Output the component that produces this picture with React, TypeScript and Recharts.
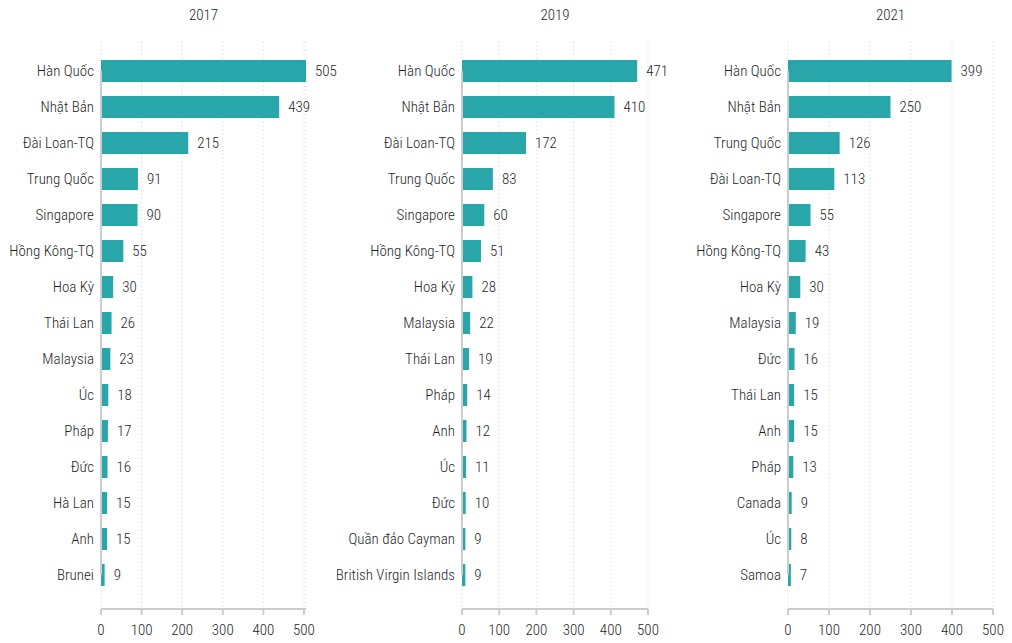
import React from "react";
import { BarChart, Bar, XAxis, YAxis, CartesianGrid, LabelList, ReferenceLine } from "recharts";

const categories2017 = ["Hàn Quốc", "Nhật Bản", "Đài Loan-TQ", "Trung Quốc", "Singapore", "Hồng Kông-TQ", "Hoa Kỳ", "Thái Lan", "Malaysia", "Úc", "Pháp", "Đức", "Hà Lan", "Anh", "Brunei"];
const values2017 = [505, 439, 215, 91, 90, 55, 30, 26, 23, 18, 17, 16, 15, 15, 9];

const categories2019 = ["Hàn Quốc", "Nhật Bản", "Đài Loan-TQ", "Trung Quốc", "Singapore", "Hồng Kông-TQ", "Hoa Kỳ", "Malaysia", "Thái Lan", "Pháp", "Anh", "Úc", "Đức", "Quần đảo Cayman", "British Virgin Islands"];
const values2019 = [471, 410, 172, 83, 60, 51, 28, 22, 19, 14, 12, 11, 10, 9, 9];

const categories2021 = ["Hàn Quốc", "Nhật Bản", "Trung Quốc", "Đài Loan-TQ", "Singapore", "Hồng Kông-TQ", "Hoa Kỳ", "Malaysia", "Đức", "Thái Lan", "Anh", "Pháp", "Canada", "Úc", "Samoa"];
const values2021 = [399, 250, 126, 113, 55, 43, 30, 19, 16, 15, 15, 13, 9, 8, 7];

const xTicks = [0, 100, 200, 300, 400, 500];
const years = ["2017", "2019", "2021"];

const FONT = "'Roboto Condensed', Roboto, sans-serif";
const WEIGHT = 300;
const TEXT = "#1f1f1f";
const BAR = "#29a6aa";
const AXIS = "#cccccc";

function CategoryTick(props: any) {
  const { x, y, payload } = props;
  return (
    <text
      x={x}
      y={y}
      dy="0.36em"
      textAnchor="end"
      fill={TEXT}
      fontSize={15}
      fontFamily={FONT}
      fontWeight={WEIGHT}
    >
      {payload.value}
    </text>
  );
}

function ValueTick(props: any) {
  const { x, y, payload } = props;
  return (
    <text
      x={x}
      y={y}
      dy="0.71em"
      textAnchor="middle"
      fill={TEXT}
      fontSize={15}
      fontFamily={FONT}
      fontWeight={WEIGHT}
    >
      {payload.value}
    </text>
  );
}

type PanelProps = {
  title: string;
  categories: string[];
  values: number[];
  left: number;
  yWidth: number;
  plotWidth: number;
  rightMargin: number;
};

function Panel({ title, categories, values, left, yWidth, plotWidth, rightMargin }: PanelProps) {
  const data = categories.map((c, i) => ({ name: c, value: values[i] }));
  const width = yWidth + plotWidth + rightMargin;
  return (
    <div style={{ position: "absolute", left, top: 0, width, height: 643 }}>
      <div
        style={{
          position: "absolute",
          left: yWidth,
          width: plotWidth,
          top: 5,
          textAlign: "center",
          fontFamily: FONT,
          fontWeight: WEIGHT,
          fontSize: 15,
          color: TEXT,
          lineHeight: "20px",
        }}
      >
        {title}
      </div>
      <BarChart
        width={width}
        height={643}
        data={data}
        layout="vertical"
        margin={{ top: 42, right: rightMargin, bottom: 0, left: 0 }}
      >
        <CartesianGrid horizontal={false} vertical stroke="#d6d6d6" strokeDasharray="1 3" />
        <XAxis
          type="number"
          domain={[0, 500]}
          ticks={xTicks}
          height={34}
          axisLine={{ stroke: AXIS, strokeWidth: 2 }}
          tickLine={{ stroke: AXIS, strokeWidth: 2 }}
          tickSize={6}
          tickMargin={9}
          tick={<ValueTick />}
          interval={0}
        />
        <YAxis
          type="category"
          dataKey="name"
          width={yWidth}
          axisLine={false}
          tickLine={false}
          tickSize={6}
          tickMargin={1}
          padding={{ top: 11, bottom: 16 }}
          tick={<CategoryTick />}
          interval={0}
        />
        <ReferenceLine
          segment={[
            { x: 0, y: categories[0] },
            { x: 0, y: categories[categories.length - 1] },
          ]}
          stroke={AXIS}
          strokeWidth={2}
        />
        <Bar dataKey="value" fill={BAR} barSize={22} isAnimationActive={false}>
          <LabelList
            dataKey="value"
            position="right"
            offset={9}
            fill={TEXT}
            fontSize={15}
            fontFamily={FONT}
            fontWeight={WEIGHT}
          />
        </Bar>
      </BarChart>
    </div>
  );
}

export default function App() {
  return (
    <div style={{ position: "relative", width: 1012, height: 643, background: "#fff" }}>
      <style>{`body{margin:0;}`}</style>
      <Panel title={years[0]} categories={categories2017} values={values2017} left={0} yWidth={101} plotWidth={205} rightMargin={31} />
      <Panel title={years[1]} categories={categories2019} values={values2019} left={337} yWidth={125} plotWidth={186} rightMargin={26} />
      <Panel title={years[2]} categories={categories2021} values={values2021} left={674} yWidth={114} plotWidth={205} rightMargin={19} />
    </div>
  );
}
